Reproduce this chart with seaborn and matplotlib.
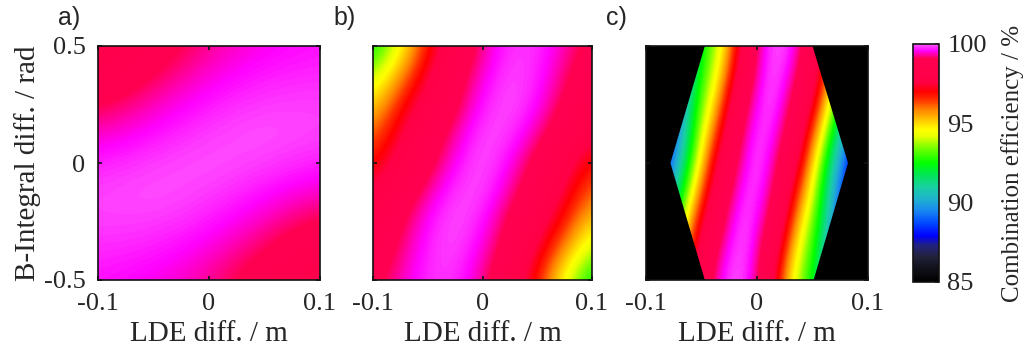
import numpy as np
import matplotlib
matplotlib.use("Agg")
import matplotlib.pyplot as plt
import seaborn as sns
from matplotlib.colors import LinearSegmentedColormap
from matplotlib.patches import Polygon

# ---------------- data ----------------
# panel a: grid nodes
x_a = [-0.1, -0.05, 0.0, 0.05, 0.1]
y_a = [0.5, 0.375, 0.25, 0.125, 0.0, -0.125, -0.25, -0.375, -0.5]
eff_a = [
    [98.3, 98.8, 99.3, 99.55, 99.65],
    [98.6, 99.1, 99.5, 99.7, 99.75],
    [99.0, 99.4, 99.7, 99.85, 99.85],
    [99.4, 99.65, 99.85, 99.95, 99.85],
    [99.7, 99.85, 99.95, 99.85, 99.7],
    [99.85, 99.95, 99.85, 99.65, 99.4],
    [99.85, 99.85, 99.7, 99.4, 99.0],
    [99.75, 99.7, 99.5, 99.1, 98.6],
    [99.65, 99.55, 99.3, 98.8, 98.3],
]

# panel b
x_b = [-0.1, -0.075, -0.05, -0.025, 0.0, 0.025, 0.05, 0.075, 0.1]
y_b = [0.5, 0.375, 0.25, 0.125, 0.0, -0.125, -0.25, -0.375, -0.5]
eff_b = [
    [92.3, 94.4, 96.8, 98.4, 99.3, 99.8, 99.8, 99.4, 98.9],
    [93.7, 95.7, 97.5, 98.8, 99.5, 99.9, 99.75, 99.2, 98.65],
    [95.0, 96.8, 98.1, 99.0, 99.7, 99.95, 99.65, 99.0, 98.4],
    [96.0, 97.5, 98.6, 99.35, 99.9, 99.85, 99.35, 98.6, 97.7],
    [96.8, 98.0, 98.9, 99.6, 99.97, 99.6, 98.9, 98.0, 96.8],
    [97.7, 98.6, 99.35, 99.85, 99.9, 99.35, 98.6, 97.5, 96.0],
    [98.4, 99.0, 99.65, 99.95, 99.7, 99.0, 98.1, 96.8, 95.0],
    [98.65, 99.2, 99.75, 99.9, 99.5, 98.8, 97.5, 95.7, 93.7],
    [98.9, 99.4, 99.8, 99.8, 99.3, 98.4, 96.8, 94.4, 92.3],
]

# panel c
x_c = [-0.09, -0.08, -0.07, -0.06, -0.05, -0.04, -0.03, -0.02, -0.01, 0.0,
       0.01, 0.02, 0.03, 0.04, 0.05, 0.06, 0.07, 0.08, 0.09]
y_c = [0.5, 0.25, 0.0, -0.25, -0.5]
eff_c = [
    [85.0, 86.5, 88.5, 90.5, 92.2, 93.3, 94.6, 96.5, 98.1, 99.1,
     99.7, 99.95, 99.8, 99.25, 98.5, 97.6, 96.0, 94.2, 92.0],
    [85.5, 87.5, 89.5, 91.5, 93.3, 94.8, 96.8, 98.3, 99.1, 99.6,
     99.95, 99.7, 99.1, 98.4, 97.6, 95.8, 93.3, 91.0, 88.5],
    [87.0, 88.8, 90.4, 92.6, 95.0, 97.2, 98.3, 99.0, 99.6, 99.95,
     99.6, 99.0, 98.3, 97.2, 95.0, 92.6, 90.4, 88.8, 87.0],
    [88.5, 91.0, 93.3, 95.8, 97.6, 98.4, 99.1, 99.7, 99.95, 99.6,
     99.1, 98.3, 96.8, 94.8, 93.3, 91.5, 89.5, 87.5, 85.5],
    [92.0, 94.2, 96.0, 97.6, 98.5, 99.25, 99.8, 99.95, 99.7, 99.1,
     98.1, 96.5, 94.6, 93.3, 92.2, 90.5, 88.5, 86.5, 85.0],
]
# valid (computed) region of panel c
valid_c_x = [-0.047, 0.050, 0.082, 0.051, -0.047, -0.078]
valid_c_y = [0.5, 0.5, 0.0, -0.5, -0.5, 0.0]

x_ticks = [-0.1, 0.0, 0.1]
x_ticklabels = ["-0.1", "0", "0.1"]
y_ticks = [-0.5, 0.0, 0.5]
y_ticklabels = ["-0.5", "0", "0.5"]
cbar_ticks = [85, 90, 95, 100]
cbar_ticklabels = ["85", "90", "95", "100"]
panel_labels = ["a)", "b)", "c)"]
x_label = "LDE diff. / m"
y_label = "B-Integral diff. / rad"
cbar_label = "Combination efficiency / %"
vmin, vmax = 85, 100

# ---------------- style ----------------
sns.set_theme(style="ticks")
plt.rcParams["font.family"] = ["Liberation Serif", "DejaVu Serif"]
plt.rcParams["axes.linewidth"] = 1.2
plt.rcParams["axes.edgecolor"] = "#111111"

anchors = [
    (85.0, "#000000"), (85.8, "#101018"), (86.6, "#22223c"), (87.3, "#222280"),
    (87.9, "#0000ff"), (88.7, "#0048ff"), (89.5, "#1888f0"), (90.2, "#20b0d0"),
    (91.0, "#18d0a0"), (91.8, "#00e850"), (92.5, "#00ff00"), (93.4, "#70ff00"),
    (94.2, "#e8ff00"), (94.6, "#ffff00"), (95.2, "#ffc800"), (95.9, "#ff8000"),
    (96.5, "#ff3000"), (97.0, "#ff0000"), (97.6, "#ff0046"), (99.1, "#ff0052"),
    (99.6, "#ff00ff"), (100.0, "#ff5cff"),
]
cmap = LinearSegmentedColormap.from_list(
    "eff", [((v - vmin) / (vmax - vmin), c) for v, c in anchors], N=512)
cmap.set_under("#000000")
cmap.set_over("#ff5cff")

fig = plt.figure(figsize=(10.24, 3.63), dpi=100)
W, H = 1024, 363
def fax(l, r, t, b):
    return [l / W, 1 - b / H, (r - l) / W, (b - t) / H]

ax_pos = [fax(98, 320, 46, 280), fax(373, 592, 46, 280), fax(646, 868, 46, 280)]
datasets = [(x_a, y_a, eff_a), (x_b, y_b, eff_b), (x_c, y_c, eff_c)]

tick_fs = 19
label_fs = 21
im = None
for i, (pos, (xs, ys, z)) in enumerate(zip(ax_pos, datasets)):
    ax = fig.add_axes(pos)
    xs = np.asarray(xs); ys = np.asarray(ys); z = np.asarray(z)
    dx = xs[1] - xs[0]; dy = ys[0] - ys[1]
    extent = [xs[0] - dx / 2, xs[-1] + dx / 2, ys[-1] - dy / 2, ys[0] + dy / 2]
    im_i = ax.imshow(z, cmap=cmap, vmin=vmin, vmax=vmax, extent=extent,
                     origin="upper", interpolation="bicubic",
                     interpolation_stage="data", aspect="auto")
    if i == 2:
        ax.set_facecolor("black")
        poly = Polygon(np.column_stack([valid_c_x, valid_c_y]), closed=True,
                       transform=ax.transData, facecolor="none", edgecolor="none")
        ax.add_patch(poly)
        im_i.set_clip_path(poly)
    if im is None:
        im = im_i
    ax.set_xlim(-0.1, 0.1)
    ax.set_ylim(-0.5, 0.5)
    ax.set_xticks(x_ticks)
    ax.set_xticklabels(x_ticklabels)
    ax.set_yticks(y_ticks)
    if i == 0:
        ax.set_yticklabels(y_ticklabels)
        ax.set_ylabel(y_label, fontsize=label_fs, labelpad=2)
    else:
        ax.set_yticklabels([])
    ax.tick_params(direction="in", length=3, width=1.2, top=True, right=True,
                   labelsize=tick_fs, pad=9, color="#111111")
    ax.set_xlabel(x_label, fontsize=label_fs, labelpad=5)
    ax.text(-0.18, 1.07, panel_labels[i], transform=ax.transAxes,
            fontsize=18, family=["Liberation Sans", "DejaVu Sans"],
            ha="left", va="bottom")
    for s in ax.spines.values():
        s.set_visible(True)

cax = fig.add_axes(fax(913, 939, 44, 282))
cb = fig.colorbar(im, cax=cax, ticks=cbar_ticks)
cb.set_ticklabels(cbar_ticklabels)
cb.outline.set_linewidth(1.2)
cax.tick_params(direction="in", length=3, width=1.2, labelsize=tick_fs, pad=6)
cb.set_label(cbar_label, fontsize=18, rotation=90, labelpad=10)

fig.savefig("out.png", dpi=100)
